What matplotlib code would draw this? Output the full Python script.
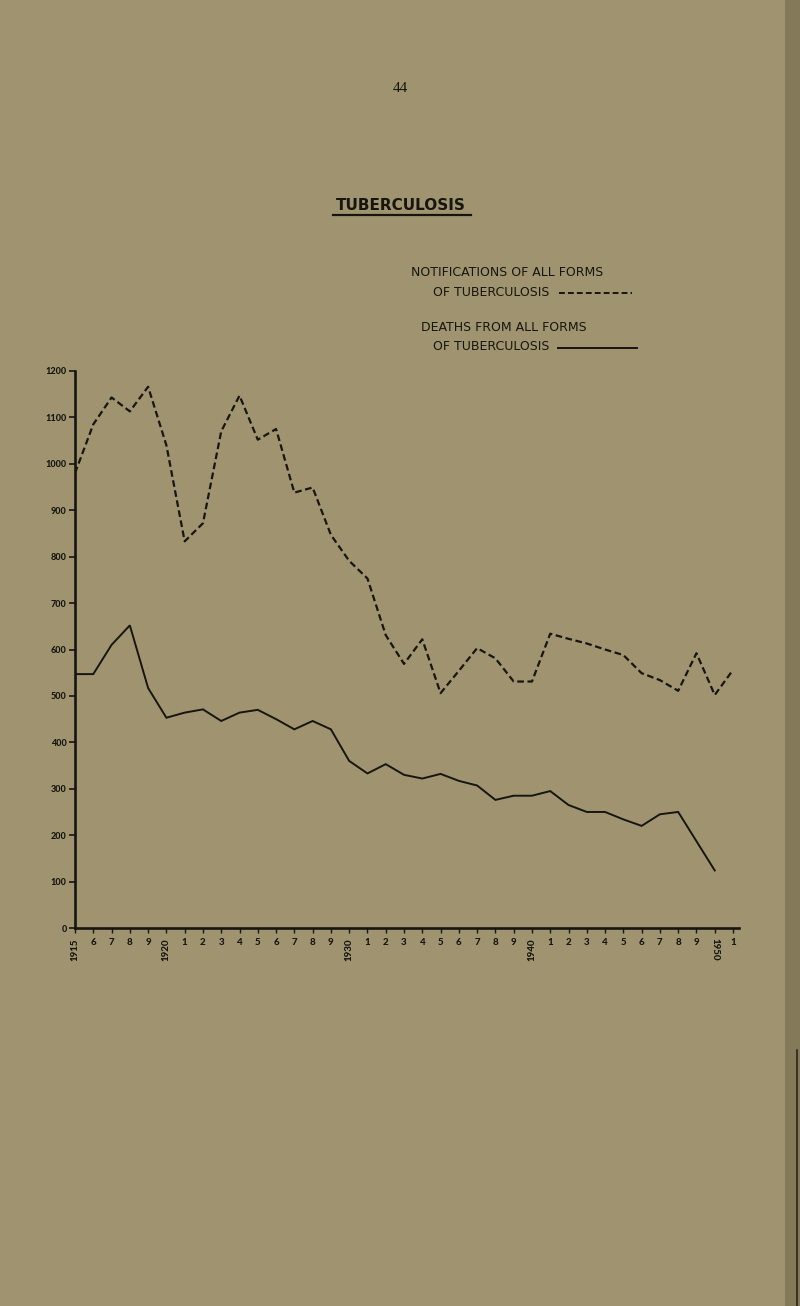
import matplotlib
matplotlib.use("Agg")
import matplotlib.pyplot as plt
from matplotlib.lines import Line2D
from matplotlib.patches import Rectangle

# Data (annual figures, 1915 - 1951)
notif_years = list(range(1915, 1952))
notifications = [980, 1085, 1143, 1113, 1166, 1040, 833, 872, 1070, 1147,
                 1052, 1075, 938, 949, 847, 791, 753, 631, 569, 622,
                 506, 554, 603, 581, 531, 531, 634, 623, 613, 600,
                 588, 549, 534, 511, 592, 502, 556]

death_years = list(range(1915, 1951))
deaths = [547, 547, 610, 652, 517, 453, 464, 471, 446, 464,
          470, 450, 428, 446, 428, 360, 333, 353, 330, 322,
          332, 317, 307, 276, 285, 285, 295, 265, 250, 250,
          234, 220, 245, 250, 187, 124]

y_ticks = [0, 100, 200, 300, 400, 500, 600, 700, 800, 900, 1000, 1100, 1200]
x_ticks = list(range(1915, 1952))
x_labels = []
for yr in x_ticks:
    if yr == 1915 or yr % 10 == 0:
        x_labels.append(str(yr))
    else:
        x_labels.append(str(yr % 10))

paper = "#9f946f"
ink = "#17150f"
dash_style = (0, (3.0, 1.6))

W, H = 800, 1306
fig = plt.figure(figsize=(W / 100, H / 100), dpi=100)
fig.patch.set_facecolor(paper)

# darker page edge on the right of the scan
fig.add_artist(Rectangle((785 / W, 0), 15 / W, 1, transform=fig.transFigure,
                         facecolor="#847958", edgecolor="none", zorder=0))
fig.add_artist(Line2D([797 / W, 797 / W], [0, 1 - 1050 / H], transform=fig.transFigure,
                      color="#2a261c", lw=1.2))

ax = fig.add_axes([75 / W, 1 - 928 / H, 663.5 / W, 557 / H])
ax.set_facecolor("none")

ax.plot(notif_years, notifications, color=ink, lw=1.6, linestyle=dash_style,
        dash_capstyle="butt")
ax.plot(death_years, deaths, color=ink, lw=1.4, solid_joinstyle="miter")

ax.set_xlim(1915, 1951.3)
ax.set_ylim(0, 1200)

for side in ["top", "right"]:
    ax.spines[side].set_visible(False)
for side in ["left", "bottom"]:
    ax.spines[side].set_linewidth(1.9)
    ax.spines[side].set_color(ink)

ytick_font = {"family": "Lato", "weight": "black", "size": 6.5}
xtick_font = {"family": "Lato", "weight": "black", "size": 7}
ax.set_yticks(y_ticks)
ax.set_yticklabels([str(v) for v in y_ticks], fontdict=ytick_font, color=ink)
ax.set_xticks(x_ticks)
ax.set_xticklabels(x_labels, fontdict=xtick_font, color=ink)
ax.tick_params(axis="y", direction="out", length=4, width=1.2, colors=ink, pad=2)
ax.tick_params(axis="x", direction="out", length=3.5, width=1.0, colors=ink, pad=4)

for lab, yr in zip(ax.get_xticklabels(), x_ticks):
    if yr == 1950:
        lab.set_rotation(270)
        lab.set_va("top")
    elif len(lab.get_text()) == 4:
        lab.set_rotation(90)
        lab.set_va("top")

# page number and heading
fig.text(400 / W, 1 - 88 / H, "44", ha="center", va="center",
         family="Liberation Serif", size=11, color=ink)
fig.text(401 / W, 1 - 206 / H, "TUBERCULOSIS", ha="center", va="center",
         family="DejaVu Sans", weight="bold", size=11, color=ink)
fig.add_artist(Line2D([333 / W, 471 / W], [1 - 215 / H, 1 - 215 / H],
                      transform=fig.transFigure, color=ink, lw=1.6))

# key
key_font = dict(family="DejaVu Sans", size=9, color=ink, va="center", ha="left")
fig.text(411 / W, 1 - 273 / H, "NOTIFICATIONS OF ALL FORMS", **key_font)
fig.text(433 / W, 1 - 292 / H, "OF TUBERCULOSIS", **key_font)
fig.add_artist(Line2D([559 / W, 632 / W], [1 - 293 / H, 1 - 293 / H],
                      transform=fig.transFigure, color=ink, lw=1.4,
                      linestyle=dash_style))
fig.text(421 / W, 1 - 328 / H, "DEATHS FROM ALL FORMS", **key_font)
fig.text(433 / W, 1 - 346 / H, "OF TUBERCULOSIS", **key_font)
fig.add_artist(Line2D([558 / W, 637 / W], [1 - 348 / H, 1 - 348 / H],
                      transform=fig.transFigure, color=ink, lw=1.4))

fig.savefig("out.png", dpi=100, facecolor=fig.get_facecolor())
